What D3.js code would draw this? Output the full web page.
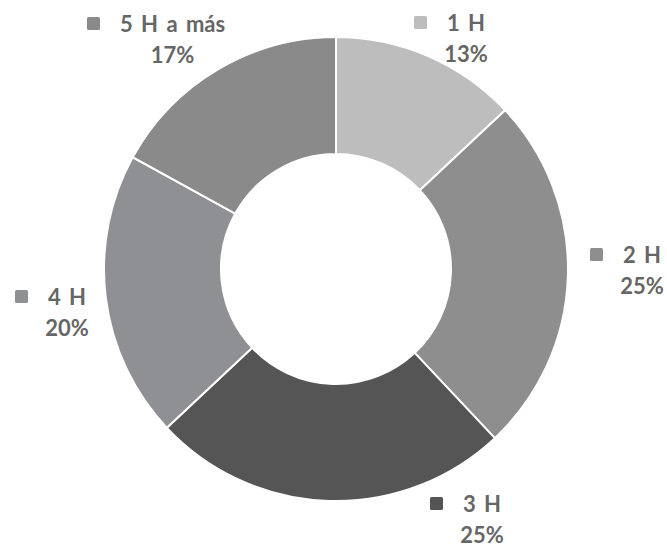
<!DOCTYPE html>
<html>
<head>
<meta charset="utf-8">
<script src="https://cdn.jsdelivr.net/npm/d3@7/dist/d3.min.js"></script>
<style>
  body { margin: 0; background: #fff; }
  svg { display: block; }
  text { font-family: Lato, "Open Sans", sans-serif; font-weight: 700; fill: #666; }
</style>
</head>
<body>
<svg id="chart" width="667" height="547"></svg>
<script>
const categories = ["1 H", "2 H", "3 H", "4 H", "5 H a más"]
const shares = [13, 25, 25, 20, 17]
const colors = ["#bdbdbd", "#8e8e8e", "#555555", "#8f9093", "#8a8a8a"]

// where each label sits (start of the name text, baseline)
const labelX = [447, 623, 463, 48, 120]
const labelY = [31, 263, 512, 305, 32]

const width = 667, height = 547
const cx = 336, cy = 269
const outerR = 232, innerR = 115
const fontSize = "22px"

const svg = d3.select("#chart")

const pie = d3.pie().sort(null).value(d => d)
const arc = d3.arc().innerRadius(innerR).outerRadius(outerR)

const g = svg.append("g").attr("transform", `translate(${cx},${cy})`)

g.selectAll("path")
  .data(pie(shares))
  .join("path")
  .attr("d", arc)
  .attr("fill", (d, i) => colors[i])
  .attr("stroke", "#fff")
  .attr("stroke-width", 2)

// labels
categories.forEach((name, i) => {
  const lab = svg.append("g")

  lab.append("rect")
    .attr("x", labelX[i] - 33)
    .attr("y", labelY[i] - 15)
    .attr("width", 13)
    .attr("height", 13)
    .attr("rx", 1.5)
    .attr("fill", colors[i])

  const t = lab.append("text")
    .attr("x", labelX[i])
    .attr("y", labelY[i])
    .style("font-size", fontSize)
    .style("word-spacing", "3px")
    .text(name)

  const w = t.node().getComputedTextLength()

  lab.append("text")
    .attr("x", labelX[i] + w / 2)
    .attr("y", labelY[i] + 31)
    .attr("text-anchor", "middle")
    .style("font-size", fontSize)
    .text(shares[i] + "%")
})
</script>
</body>
</html>
